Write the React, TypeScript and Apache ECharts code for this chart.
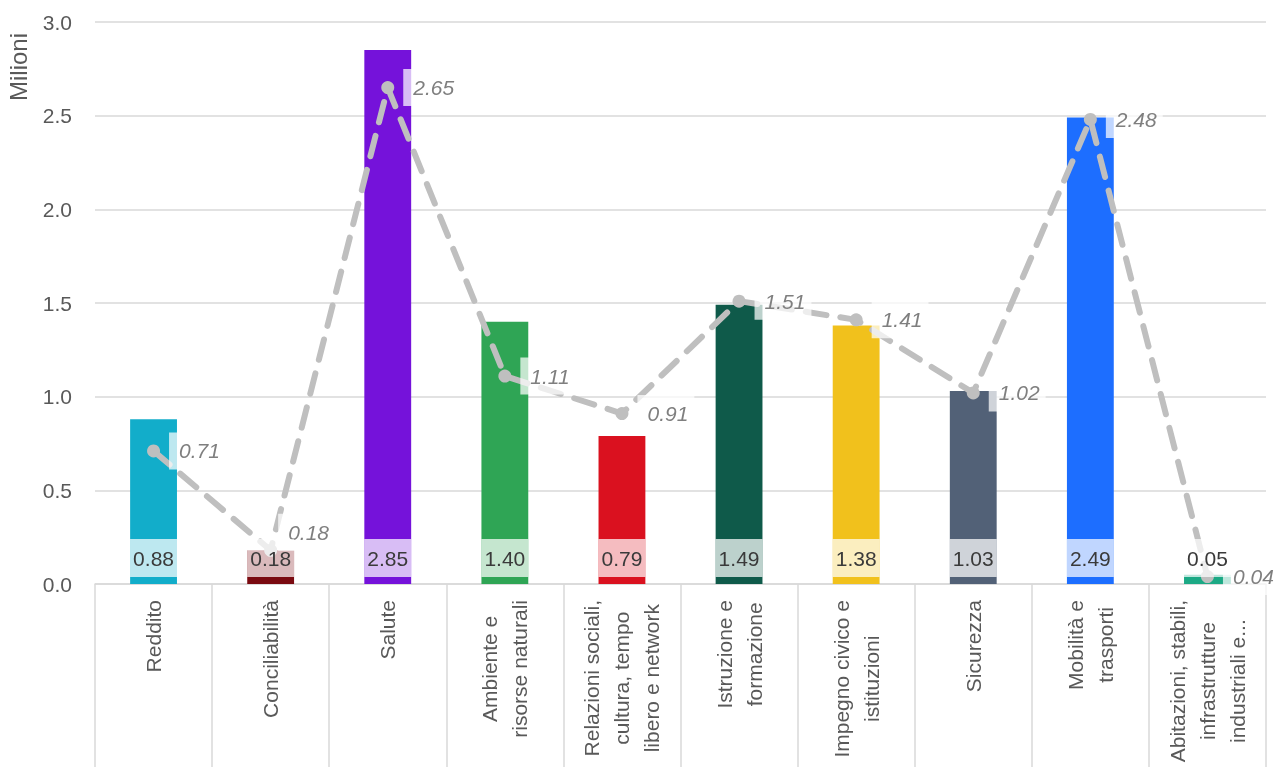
import React, { useEffect, useRef } from "react";
import * as echarts from "echarts";

const categories = [
  "Reddito",
  "Conciliabilità",
  "Salute",
  "Ambiente e\nrisorse naturali",
  "Relazioni sociali,\ncultura, tempo\nlibero e network",
  "Istruzione e\nformazione",
  "Impegno civico e\nistituzioni",
  "Sicurezza",
  "Mobilità e\ntrasporti",
  "Abitazioni, stabili,\ninfrastrutture\nindustriali e...",
];

const barValues = [0.88, 0.18, 2.85, 1.4, 0.79, 1.49, 1.38, 1.03, 2.49, 0.05];
const lineValues = [0.71, 0.18, 2.65, 1.11, 0.91, 1.51, 1.41, 1.02, 2.48, 0.04];
const barColors = [
  "#12ADCA",
  "#7A0A10",
  "#7512DA",
  "#2FA555",
  "#DA111F",
  "#0F5A4A",
  "#F1C11C",
  "#526177",
  "#1D6EFF",
  "#1CA985",
];
const yTicks = { min: 0, max: 3, interval: 0.5 };
const yAxisTitle = "Milioni";

const FONT = "'Liberation Sans', Arial, sans-serif";

export default function App() {
  const ref = useRef<HTMLDivElement>(null);

  useEffect(() => {
    if (!ref.current) return;
    const chart = echarts.init(ref.current, null, { renderer: "svg" });
    chart.setOption({
      animation: false,
      textStyle: { fontFamily: FONT },
      grid: { left: 95, right: 15, top: 22, bottom: 183, containLabel: false },
      graphic: [
        {
          type: "text",
          x: 18,
          y: 67,
          rotation: Math.PI / 2,
          style: {
            text: yAxisTitle,
            fontSize: 24,
            fontFamily: FONT,
            fill: "#595959",
            textAlign: "center",
            textVerticalAlign: "middle",
          },
        },
      ],
      xAxis: {
        type: "category",
        data: categories,
        boundaryGap: true,
        axisLine: { show: true, lineStyle: { color: "#d9d9d9", width: 1.5 } },
        axisTick: {
          show: true,
          length: 185,
          lineStyle: { color: "#d9d9d9", width: 1.5 },
        },
        axisLabel: {
          interval: 0,
          rotate: 90,
          margin: 16,
          color: "#595959",
          fontSize: 21,
          fontFamily: FONT,
          lineHeight: 30,
          formatter: (v: string) =>
            v
              .split("\n")
              .map((l) => `{c|${l}}`)
              .join("\n"),
          rich: {
            c: {
              align: "center",
              fontSize: 21,
              fontFamily: FONT,
              color: "#595959",
              lineHeight: 30,
            },
          },
        },
      },
      yAxis: {
        type: "value",
        min: yTicks.min,
        max: yTicks.max,
        interval: yTicks.interval,
        axisLine: { show: false },
        axisTick: { show: false },
        axisLabel: {
          color: "#595959",
          fontSize: 21,
          fontFamily: FONT,
          margin: 23,
          formatter: (v: number) => v.toFixed(1),
        },
        splitLine: { lineStyle: { color: "#d9d9d9", width: 1.5 } },
      },
      series: [
        {
          type: "bar",
          z: 2,
          barWidth: "40%",
          data: barValues.map((v, i) => ({
            value: v,
            itemStyle: { color: barColors[i] },
          })),
        },
        {
          type: "line",
          z: 3,
          data: lineValues.map((v, i) =>
            i === 1 ? { value: v, label: { offset: [-8, -18] } } : v
          ),
          symbol: "circle",
          symbolSize: 13,
          itemStyle: { color: "#BFBFBF" },
          lineStyle: { color: "#BFBFBF", width: 6, type: [21, 14], cap: "round" },
          label: {
            show: true,
            position: "right",
            distance: 9,
            fontStyle: "italic",
            fontSize: 21,
            fontFamily: FONT,
            color: "#7F7F7F",
            lineHeight: 21,
            backgroundColor: "rgba(255,255,255,0.72)",
            padding: [8, 6, 8, 10],
            formatter: (p: any) => Number(p.value).toFixed(2),
          },
        },
        {
          type: "bar",
          z: 4,
          barWidth: "40%",
          barGap: "-100%",
          silent: true,
          itemStyle: { color: "rgba(0,0,0,0)" },
          data: barValues,
          label: {
            show: true,
            position: "insideBottom",
            distance: 7,
            fontSize: 21,
            fontFamily: FONT,
            color: "#3A3A3A",
            width: 47,
            lineHeight: 38,
            align: "center",
            backgroundColor: "rgba(255,255,255,0.72)",
            padding: 0,
            formatter: (p: any) => Number(p.value).toFixed(2),
          },
        },
      ],
    });
    return () => chart.dispose();
  }, []);

  return (
    <div
      ref={ref}
      style={{ position: "fixed", left: 0, top: 0, width: 1281, height: 767 }}
    />
  );
}
